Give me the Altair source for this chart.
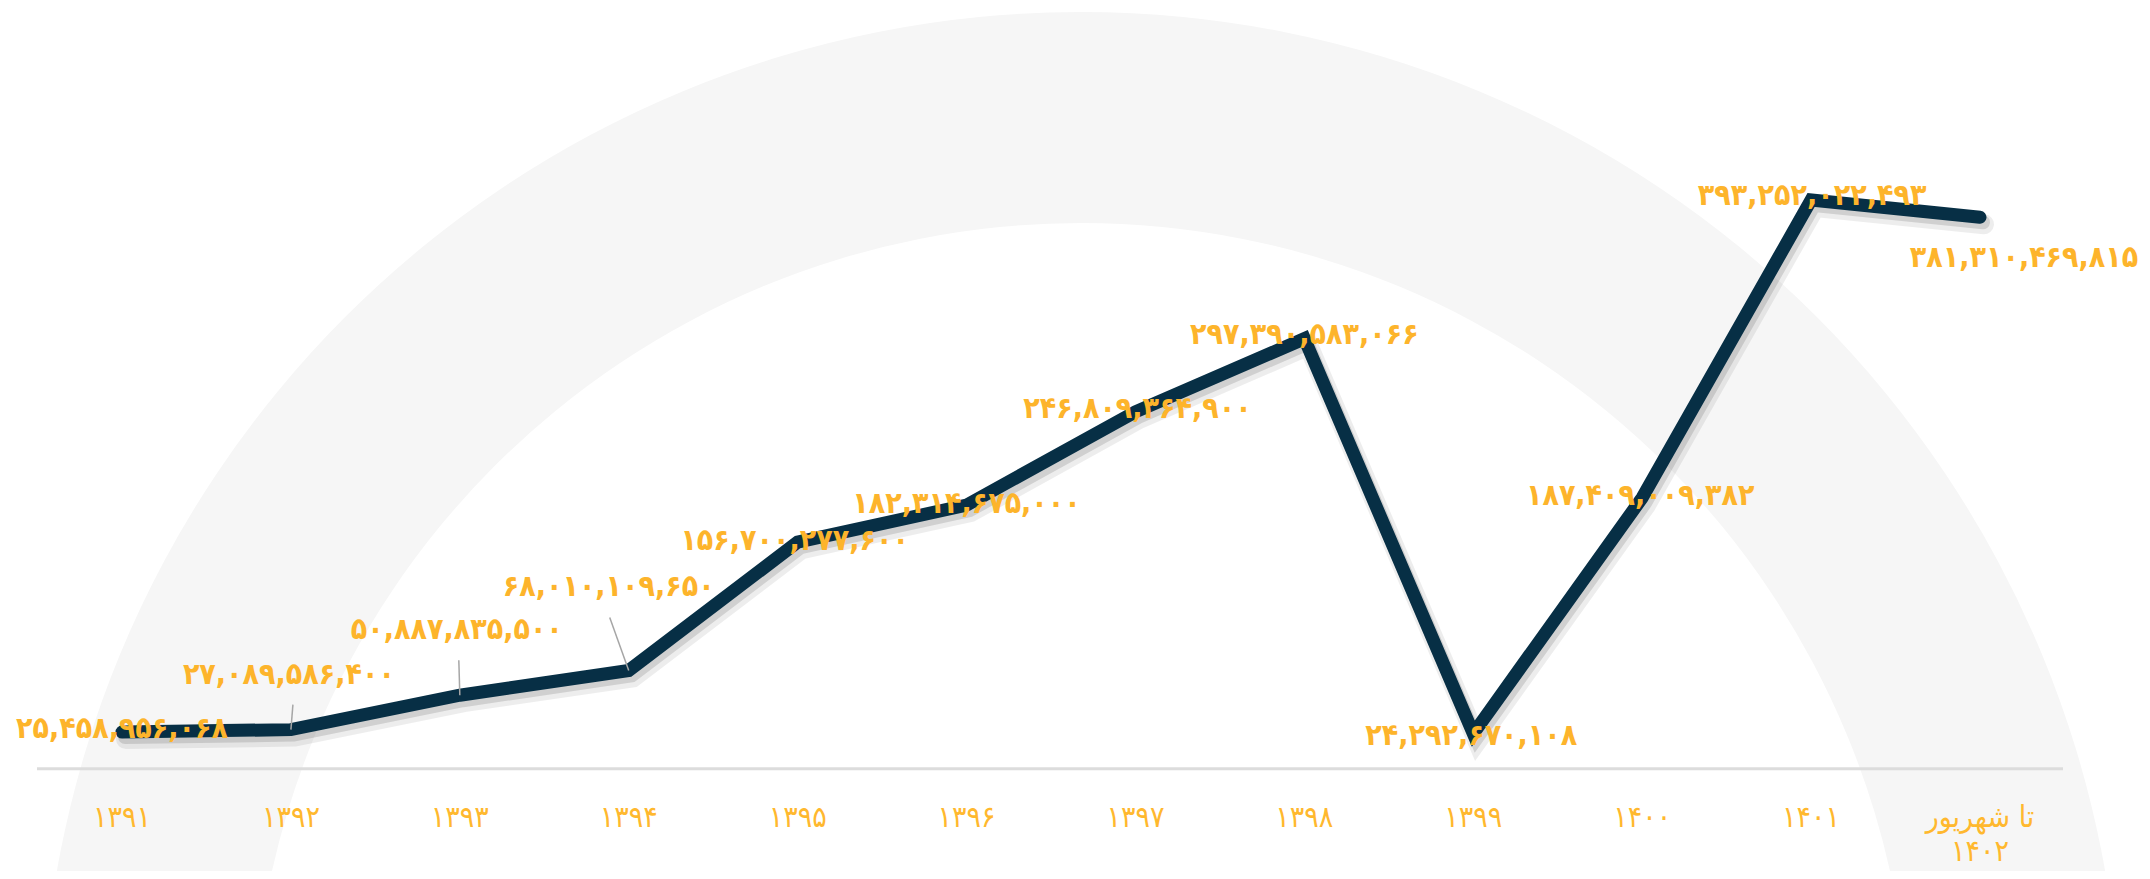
import altair as alt
import pandas as pd

# ---- data ----
categories = ["۱۳۹۱", "۱۳۹۲", "۱۳۹۳", "۱۳۹۴", "۱۳۹۵", "۱۳۹۶", "۱۳۹۷", "۱۳۹۸",
              "۱۳۹۹", "۱۴۰۰", "۱۴۰۱", "تا شهریور\n۱۴۰۲"]
values = [25458956068, 27089586400, 50887835500, 68010109650, 156700277600,
          182314675000, 246809364900, 297390583066, 24292670108, 187409009382,
          393252022493, 381310469815]

# ---- style (label placement offsets in px) ----
label_dx = [0, -2, -3, -20, -3, 0, 2, 0, -2, -2, 1, 44]
label_dy = [-3, -55, -65, -83, -1, -1, -3, -4, 2, -2, -4, 41]
leaders = {1: (2, -25), 2: (-1, -35), 3: (-19, -53)}

W, H = 2134, 863
FA = str.maketrans("0123456789", "۰۱۲۳۴۵۶۷۸۹")
fa_labels = [f"{v:,}".translate(FA) for v in values]

df = pd.DataFrame({"cat": categories, "val": values, "lab": fa_labels,
                   "idx": list(range(len(values)))})

YDOM = [-70.65e9, 526.0e9]
xs = alt.X("cat:N", sort=categories, axis=None,
           scale=alt.Scale(type="point", range=[114, 1972], padding=0))
ys = alt.Y("val:Q", axis=None,
           scale=alt.Scale(domain=YDOM, nice=False, zero=False))

LINE = "#072F45"
ORANGE = "#FDB42B"
FONT = "DejaVu Sans Condensed"

ring = alt.Chart(pd.DataFrame({"k": [0]})).mark_arc(color="#F6F6F6").encode(
    x=alt.value(1073), y=alt.value(1044),
    theta=alt.value(0), theta2=alt.value(6.2832),
    radius=alt.value(1040), radius2=alt.value(829))

baseline = alt.Chart(pd.DataFrame({"z": [0]})).mark_rule(
    color="#DCDCDC", strokeWidth=3).encode(
    y=alt.Y("z:Q", scale=alt.Scale(domain=YDOM, nice=False, zero=False), axis=None),
    x=alt.value(29), x2=alt.value(2055))

base = alt.Chart(df)
shadow1 = base.mark_line(color="#000000", opacity=0.07, strokeWidth=20,
                         strokeCap="round", strokeJoin="miter",
                         xOffset=4, yOffset=7).encode(x=xs, y=ys, order="idx:Q")
shadow2 = base.mark_line(color="#000000", opacity=0.12, strokeWidth=14,
                         strokeCap="round", strokeJoin="miter",
                         xOffset=3, yOffset=5).encode(x=xs, y=ys, order="idx:Q")
line = base.mark_line(color=LINE, strokeWidth=13, strokeCap="round",
                      strokeJoin="miter", strokeMiterLimit=6).encode(
    x=xs, y=ys, order="idx:Q")

layers = [ring, baseline, shadow1, shadow2, line]

for i, (ex, ey) in leaders.items():
    layers.append(
        base.transform_filter(alt.datum.idx == i).mark_rule(
            color="#A6A6A6", strokeWidth=1.5, x2Offset=ex, y2Offset=ey).encode(
            x=xs, y=ys, x2="cat:N", y2="val:Q"))

for i in range(len(values)):
    layers.append(
        base.transform_filter(alt.datum.idx == i).mark_text(
            font=FONT, fontSize=30, fontWeight="bold", color=ORANGE,
            align="center", baseline="middle", dx=label_dx[i], dy=label_dy[i]).encode(
            x=xs, y=ys, text="lab:N"))

ticks = base.mark_text(font=FONT, fontSize=30, color="#FFB82E", align="center",
                       baseline="alphabetic", lineBreak="\n", lineHeight=34).encode(
    x=xs, y=alt.value(819), text="cat:N")
layers.append(ticks)

chart = alt.layer(*layers).properties(
    width=W, height=H,
    autosize=alt.AutoSizeParams(type="none"),
    padding=0, background="white",
).configure_view(stroke=None)

chart.save("out.html", embed_options={"renderer": "svg", "actions": False})
